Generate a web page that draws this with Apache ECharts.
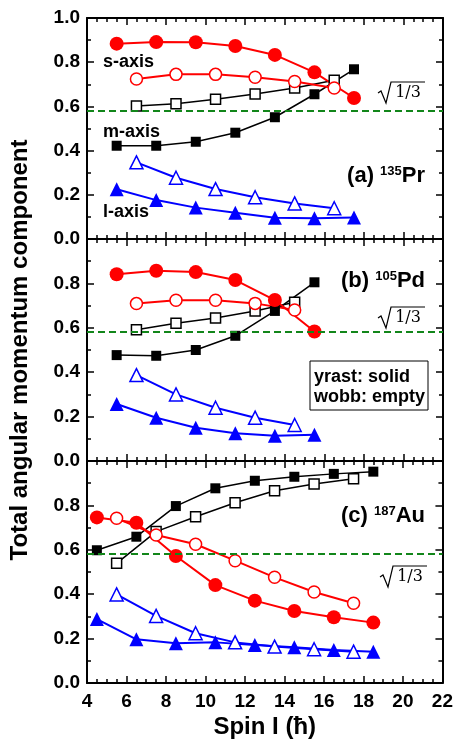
<!DOCTYPE html>
<html style="height: 100%">
<head>
    <meta charset="utf-8">
</head>
<body style="height: 100%; margin: 0; background: #fff">
<div id="container" style="width: 456px; height: 745px"></div>
<script type="text/javascript" src="https://cdn.jsdelivr.net/npm/echarts@6/dist/echarts.min.js"></script>
<script type="text/javascript">
  // spins
  const spinPrYrast = [5.5, 7.5, 9.5, 11.5, 13.5, 15.5, 17.5];
  const spinPrWobb = [6.5, 8.5, 10.5, 12.5, 14.5, 16.5];
  const spinPdYrast = [5.5, 7.5, 9.5, 11.5, 13.5, 15.5];
  const spinPdWobb = [6.5, 8.5, 10.5, 12.5, 14.5];
  const spinAuYrast = [4.5, 6.5, 8.5, 10.5, 12.5, 14.5, 16.5, 18.5];
  const spinAuWobb = [5.5, 7.5, 9.5, 11.5, 13.5, 15.5, 17.5];

  // (a) 135Pr
  const prSYrast = [0.884, 0.891, 0.890, 0.873, 0.833, 0.754, 0.638];
  const prSWobb = [0.724, 0.745, 0.745, 0.732, 0.713, 0.683];
  const prMYrast = [0.422, 0.422, 0.440, 0.481, 0.551, 0.655, 0.768];
  const prMWobb = [0.602, 0.612, 0.632, 0.656, 0.683, 0.718];
  const prLYrast = [0.225, 0.176, 0.142, 0.119, 0.096, 0.094, 0.097];
  const prLWobb = [0.347, 0.277, 0.226, 0.189, 0.161, 0.139];

  // (b) 105Pd
  const pdSYrast = [0.841, 0.857, 0.851, 0.815, 0.725, 0.583];
  const pdSWobb = [0.709, 0.724, 0.724, 0.710, 0.680];
  const pdMYrast = [0.477, 0.474, 0.500, 0.564, 0.676, 0.805];
  const pdMWobb = [0.591, 0.620, 0.644, 0.676, 0.715];
  const pdLYrast = [0.257, 0.195, 0.150, 0.125, 0.114, 0.118];
  const pdLWobb = [0.387, 0.300, 0.240, 0.195, 0.162];

  // (c) 187Au
  const auSYrast = [0.746, 0.722, 0.572, 0.441, 0.371, 0.324, 0.296, 0.272];
  const auSWobb = [0.742, 0.667, 0.625, 0.551, 0.476, 0.410, 0.359];
  const auMYrast = [0.598, 0.659, 0.797, 0.877, 0.911, 0.929, 0.942, 0.952];
  const auMWobb = [0.539, 0.682, 0.749, 0.812, 0.866, 0.896, 0.920];
  const auLYrast = [0.288, 0.197, 0.179, 0.183, 0.171, 0.161, 0.149, 0.141];
  const auLWobb = [0.399, 0.302, 0.224, 0.183, 0.164, 0.152, 0.141];

  const sqrtThird = Math.sqrt(1 / 3);
  const FONT = '"Liberation Sans", Arial, sans-serif';

  const zip = (xs, ys) => xs.map((x, i) => [x, ys[i]]);

  const gridTops = [18, 239, 461];
  const gridHeights = [221, 222, 222];

  var dom = document.getElementById("container");
  var myChart = echarts.init(dom, null, {renderer: 'canvas'});

  const grids = gridTops.map((t, i) => ({left: 87, right: 13, top: t, height: gridHeights[i]}));

  const xAxes = [];
  const yAxes = [];
  for (let i = 0; i < 3; i++) {
    ['bottom', 'top'].forEach(pos => {
      xAxes.push({
        type: 'value', gridIndex: i, position: pos, min: 4, max: 22, interval: 2,
        axisLine: {onZero: false, lineStyle: {color: '#000', width: 2}},
        axisTick: {inside: true, length: 7, lineStyle: {color: '#000', width: 1.5}},
        minorTick: {show: true, splitNumber: 4, length: 4, lineStyle: {color: '#000', width: 1.5}},
        splitLine: {show: false},
        axisLabel: {show: i === 2 && pos === 'bottom', color: '#000', fontFamily: FONT, fontWeight: 'bold', fontSize: 19, margin: 9},
        name: (i === 2 && pos === 'bottom') ? 'Spin I (ħ)' : '',
        nameLocation: 'middle', nameGap: 32,
        nameTextStyle: {color: '#000', fontFamily: FONT, fontWeight: 'bold', fontSize: 24}
      });
    });
    ['left', 'right'].forEach(pos => {
      yAxes.push({
        type: 'value', gridIndex: i, position: pos, min: 0, max: 1, interval: 0.2,
        axisLine: {show: true, onZero: false, lineStyle: {color: '#000', width: 2}},
        axisTick: {show: true, inside: true, length: 7, lineStyle: {color: '#000', width: 1.5}},
        minorTick: {show: true, splitNumber: 2, length: 4, lineStyle: {color: '#000', width: 1.5}},
        splitLine: {show: false},
        axisLabel: {
          show: pos === 'left', showMaxLabel: i === 0, color: '#000', fontFamily: FONT, fontWeight: 'bold', fontSize: 19, margin: 7,
          formatter: v => v.toFixed(1)
        },
        name: (i === 1 && pos === 'left') ? 'Total angular momentum component' : '',
        nameLocation: 'middle', nameGap: 55,
        nameTextStyle: {color: '#000', fontFamily: FONT, fontWeight: 'bold', fontSize: 24}
      });
    });
  }

  function lineSeries(panel, xs, ys, color, symbol, size, filled, width) {
    return {
      type: 'line', xAxisIndex: panel * 2, yAxisIndex: panel * 2,
      data: zip(xs, ys),
      symbol: symbol, symbolSize: size, showAllSymbol: true,
      lineStyle: {color: color, width: width},
      itemStyle: filled ? {color: color} : {color: '#fff', borderColor: color, borderWidth: 1.5},
      emphasis: {disabled: true},
      z: 3
    };
  }

  function refLine(panel) {
    return {
      type: 'line', xAxisIndex: panel * 2, yAxisIndex: panel * 2, data: [],
      markLine: {
        silent: true, symbol: ['none', 'none'], label: {show: false},
        lineStyle: {color: '#12861a', type: [7, 4], width: 2},
        data: [{yAxis: sqrtThird}]
      },
      z: 2
    };
  }

  const RED = '#ff0000', BLACK = '#000000', BLUE = '#0000ff';
  const series = [
    refLine(0), refLine(1), refLine(2),
    // (a)
    lineSeries(0, spinPrYrast, prMYrast, BLACK, 'rect', 10, true, 1.5),
    lineSeries(0, spinPrWobb, prMWobb, BLACK, 'rect', 10, false, 1.5),
    lineSeries(0, spinPrYrast, prSYrast, RED, 'circle', 14, true, 2),
    lineSeries(0, spinPrWobb, prSWobb, RED, 'circle', 12, false, 2),
    lineSeries(0, spinPrYrast, prLYrast, BLUE, 'triangle', 14, true, 2),
    lineSeries(0, spinPrWobb, prLWobb, BLUE, 'triangle', 13, false, 2),
    // (b)
    lineSeries(1, spinPdYrast, pdMYrast, BLACK, 'rect', 10, true, 1.5),
    lineSeries(1, spinPdWobb, pdMWobb, BLACK, 'rect', 10, false, 1.5),
    lineSeries(1, spinPdYrast, pdSYrast, RED, 'circle', 14, true, 2),
    lineSeries(1, spinPdWobb, pdSWobb, RED, 'circle', 12, false, 2),
    lineSeries(1, spinPdYrast, pdLYrast, BLUE, 'triangle', 14, true, 2),
    lineSeries(1, spinPdWobb, pdLWobb, BLUE, 'triangle', 13, false, 2),
    // (c)
    lineSeries(2, spinAuYrast, auMYrast, BLACK, 'rect', 10, true, 1.5),
    lineSeries(2, spinAuWobb, auMWobb, BLACK, 'rect', 10, false, 1.5),
    lineSeries(2, spinAuYrast, auSYrast, RED, 'circle', 14, true, 2),
    lineSeries(2, spinAuWobb, auSWobb, RED, 'circle', 12, false, 2),
    lineSeries(2, spinAuYrast, auLYrast, BLUE, 'triangle', 14, true, 2),
    lineSeries(2, spinAuWobb, auLWobb, BLUE, 'triangle', 13, false, 2)
  ];

  function plainText(x, y, text) {
    return {
      type: 'text', x: x, y: y, z: 10,
      style: {text: text, font: 'bold 18px ' + FONT, fill: '#000', verticalAlign: 'middle', textVerticalAlign: 'middle'}
    };
  }

  function panelLabel(y, tag, mass, elem) {
    return {
      type: 'text', x: 425, y: y, z: 10,
      style: {
        text: '{m|' + tag + ' }{s|' + mass + '}{m|' + elem + '}',
        align: 'right', textAlign: 'right', verticalAlign: 'middle', textVerticalAlign: 'middle',
        rich: {
          m: {fontFamily: FONT, fontWeight: 'bold', fontSize: 22, fill: '#000', color: '#000', verticalAlign: 'bottom'},
          s: {fontFamily: FONT, fontWeight: 'bold', fontSize: 13, fill: '#000', color: '#000', verticalAlign: 'top'}
        }
      }
    };
  }

  // radical sign for sqrt(1/3), ox/oy = left end of the overline
  function sqrtMark(ox, oy) {
    return {
      type: 'group', z: 10,
      children: [
        {
          type: 'polyline',
          shape: {points: [[ox - 13, oy + 11], [ox - 10, oy + 9], [ox - 5, oy + 21], [ox, oy], [ox + 34, oy]]},
          style: {stroke: '#000', lineWidth: 1.2, fill: null}
        },
        {
          type: 'text', x: ox + 17, y: oy + 11,
          style: {text: '1/3', font: '16px "DejaVu Serif", serif', fill: '#000', align: 'center', textAlign: 'center', verticalAlign: 'middle', textVerticalAlign: 'middle'}
        }
      ]
    };
  }

  const graphics = [
    plainText(103, 62, 's-axis'),
    plainText(103, 132, 'm-axis'),
    plainText(103, 212, 'l-axis'),
    panelLabel(176, '(a)', '135', 'Pr'),
    panelLabel(281, '(b)', '105', 'Pd'),
    panelLabel(516, '(c)', '187', 'Au'),
    sqrtMark(391, 82),
    sqrtMark(391, 307),
    sqrtMark(393, 566),
    {
      type: 'rect', z: 10,
      shape: {x: 310, y: 361, width: 118, height: 49},
      style: {fill: '#fff', stroke: '#000', lineWidth: 1}
    },
    plainText(314, 377, 'yrast: solid'),
    plainText(314, 397, 'wobb: empty')
  ];

  var option = {
    animation: false,
    backgroundColor: '#fff',
    grid: grids,
    xAxis: xAxes,
    yAxis: yAxes,
    series: series,
    graphic: graphics
  };
  myChart.setOption(option);
</script>
</body>
</html>
